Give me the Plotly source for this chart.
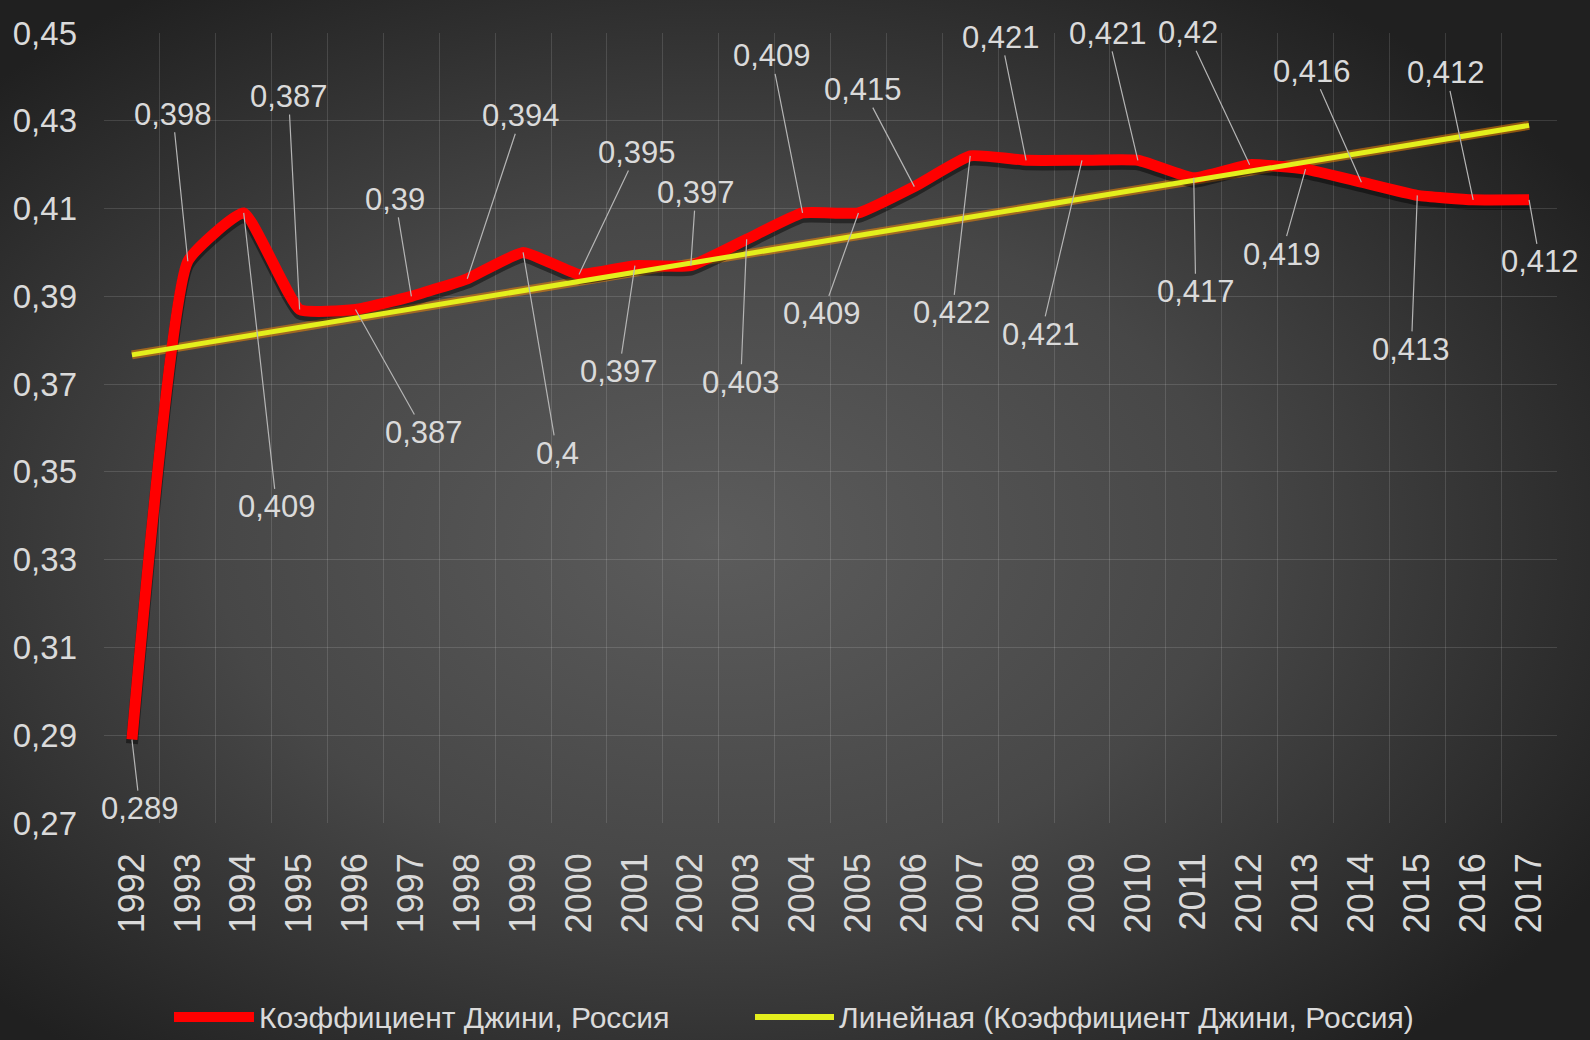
import base64
import numpy as np
import plotly.graph_objects as go

# ---------------- data ----------------
years = [str(y) for y in range(1992, 2018)]
gini = [0.289, 0.398, 0.409, 0.387, 0.387, 0.39, 0.394, 0.4, 0.395, 0.397,
        0.397, 0.403, 0.409, 0.409, 0.415, 0.422, 0.421, 0.421, 0.421, 0.417,
        0.42, 0.419, 0.416, 0.413, 0.412, 0.412]
y_ticks = [0.27, 0.29, 0.31, 0.33, 0.35, 0.37, 0.39, 0.41, 0.43, 0.45]
y_tick_labels = ["0,27", "0,29", "0,31", "0,33", "0,35", "0,37", "0,39", "0,41", "0,43", "0,45"]
series_name = "Коэффициент Джини, Россия"
trend_name = "Линейная (Коэффициент Джини, Россия)"

# label offsets (pixels, text centre relative to point)
label_dx = [8, -15, 33, -11, 69, -16, 54, 34, 58, -16, 5, -6, -31, -36, -51, -18, -25, -41, -30, 2, -62, -24, -49, -6, -27, 11]
label_dy = [69, -147, 294, -213, 123, -97, -163, 201, -122, 106, -73, 143, -157, 101, -97, 157, -123, 174, -127, 114, -132, 85, -111, 154, -127, 62]

# linear trend (least squares, as Excel's linear trendline)
xi = np.arange(len(gini))
slope, intercept = np.polyfit(xi, gini, 1)
trend = list(intercept + slope * xi)

W, H = 1590, 1040
ML, MR, MT, MB = 104, 33, 33, 217
PW, PH = W - ML - MR, H - MT - MB
Y0, Y1 = 0.27, 0.45
shadow_px = 4
shadow_shift = shadow_px / PH * (Y1 - Y0)

FONT = "Liberation Sans, Arial, sans-serif"
TXT = "#dadada"

fig = go.Figure()

# trend glow (main axis)
fig.add_trace(go.Scatter(x=years, y=trend, mode="lines",
                         line=dict(color="rgba(255,140,0,0.5)", width=9),
                         hoverinfo="skip", showlegend=False))
# red line drop shadow (shifted overlay axis y2)
fig.add_trace(go.Scatter(x=years, y=gini, mode="lines", yaxis="y2",
                         line=dict(color="rgba(0,0,0,0.45)", width=12, shape="spline", smoothing=0.4),
                         hoverinfo="skip", showlegend=False))
# main series and trend (overlay axis y3, same range as y)
fig.add_trace(go.Scatter(x=years, y=gini, mode="lines", name=series_name, yaxis="y3",
                         line=dict(color="#ff0000", width=11, shape="spline", smoothing=0.4),
                         showlegend=False))
fig.add_trace(go.Scatter(x=years, y=trend, mode="lines", name=trend_name, yaxis="y3",
                         line=dict(color="#e4ef1d", width=5),
                         showlegend=False))

# data labels
for i, (v, dx, dy) in enumerate(zip(gini, label_dx, label_dy)):
    fig.add_annotation(x=i, y=v, xref="x", yref="y", text=f"{v:g}".replace(".", ","),
                       showarrow=True, arrowhead=0, arrowwidth=1.2,
                       arrowcolor="#b5b5b5", ax=dx, ay=dy, standoff=0,
                       borderpad=0,
                       font=dict(family=FONT, size=31, color=TXT))

# custom legend
def px_to_paper_x(px):
    return (px - ML) / PW

def px_to_paper_y(py):
    return (H - MB - py) / PH

leg_y = px_to_paper_y(1017)
legend_items = [(series_name, "#ff0000", 174, 254, 10), (trend_name, "#e4ef1d", 755, 834, 6)]
for name, col, x0, x1, w in legend_items:
    fig.add_shape(type="line", xref="paper", yref="paper",
                  x0=px_to_paper_x(x0), x1=px_to_paper_x(x1), y0=leg_y, y1=leg_y,
                  line=dict(color=col, width=w))
    fig.add_annotation(xref="paper", yref="paper", x=px_to_paper_x(x1 + 3), y=leg_y,
                       xanchor="left", yanchor="middle", showarrow=False, text=name,
                       font=dict(family=FONT, size=30, color=TXT))

# radial gradient background
svg = (f"<svg xmlns='http://www.w3.org/2000/svg' width='{W}' height='{H}' viewBox='0 0 {W} {H}' preserveAspectRatio='none'>"
       "<defs><radialGradient id='g' cx='0.46' cy='0.52' r='0.64' fx='0.45' fy='0.52'>"
       "<stop offset='0' stop-color='#5c5c5c'/><stop offset='0.5' stop-color='#474747'/>"
       "<stop offset='1' stop-color='#202020'/></radialGradient></defs>"
       f"<rect width='{W}' height='{H}' fill='url(#g)'/></svg>")
src = "data:image/svg+xml;base64," + base64.b64encode(svg.encode()).decode()
fig.add_layout_image(source=src, xref="paper", yref="paper",
                     x=-ML / PW, y=1 + MT / PH, sizex=W / PW, sizey=H / PH,
                     xanchor="left", yanchor="top", sizing="stretch", layer="below")

grid = "rgba(255,255,255,0.13)"
fig.update_layout(
    width=W, height=H, autosize=False,
    margin=dict(l=ML, r=MR, t=MT, b=MB),
    paper_bgcolor="#2a2a2a", plot_bgcolor="rgba(0,0,0,0)",
    showlegend=False,
    xaxis=dict(type="category", categoryorder="array", categoryarray=years,
               range=[-0.5, len(years) - 0.5], tickangle=-90, tickson="boundaries",
               showgrid=True, gridcolor=grid, gridwidth=1, ticks="",
               showline=False, zeroline=False, ticklabelstandoff=22,
               tickfont=dict(family=FONT, size=36, color=TXT)),
    yaxis=dict(range=[Y0, Y1], tickvals=y_ticks, ticktext=y_tick_labels,
               showgrid=True, gridcolor=grid, gridwidth=1, zeroline=False,
               showline=False, ticks="", ticklabelstandoff=26,
               tickfont=dict(family=FONT, size=33, color=TXT)),
    yaxis2=dict(range=[Y0 + shadow_shift, Y1 + shadow_shift], overlaying="y",
                visible=False, showgrid=False),
    yaxis3=dict(range=[Y0, Y1], overlaying="y", visible=False, showgrid=False),
)

fig.write_html("out.html", config={"displayModeBar": False},
               post_script="document.body.style.margin='0';document.body.style.background='#2a2a2a';")
